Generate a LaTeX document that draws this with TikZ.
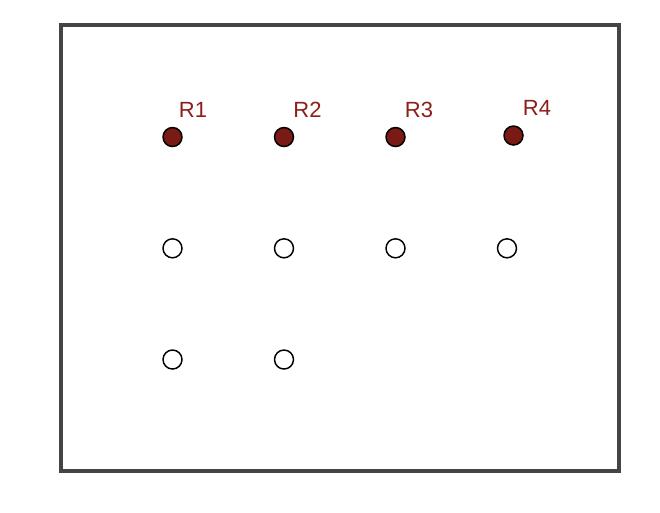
\documentclass[tikz,border=0pt]{standalone}
\usepackage{fontspec}
\setmainfont{Liberation Sans}
\definecolor{dred}{HTML}{7A1A14}
\definecolor{lred}{HTML}{8B1F1A}
\definecolor{frame}{HTML}{444444}
\begin{document}
\begin{tikzpicture}[x=0.75pt,y=-0.75pt,
  pt/.style={circle,draw=black,line width=1.1pt,minimum size=14.25pt,inner sep=0pt},
  red/.style={pt,fill=dred},
  open/.style={pt,fill=white},
  lab/.style={text=lred,font=\fontsize{16.5}{19}\selectfont,inner sep=0pt}]
\useasboundingbox (0,0) rectangle (660,512);
\draw[frame,line width=3pt,line cap=round] (61,25) rectangle (619,471);
\node[red] (r1) at (172.5,137) {};
\node[red] (r2) at (284,137) {};
\node[red] (r3) at (395.5,137) {};
\node[red] (r4) at (513.5,135.5) {};
\node[lab] (l1) at (193,110) {R1};
\node[lab] (l2) at (307.5,110) {R2};
\node[lab] (l3) at (419,110) {R3};
\node[lab] (l4) at (537,107.5) {R4};
\node[open] (o1) at (172.5,248.3) {};
\node[open] (o2) at (284,248.3) {};
\node[open] (o3) at (395.5,248.3) {};
\node[open] (o4) at (507,248.3) {};
\node[open] (o5) at (172.5,359.5) {};
\node[open] (o6) at (284,359.5) {};
\end{tikzpicture}
\end{document}
